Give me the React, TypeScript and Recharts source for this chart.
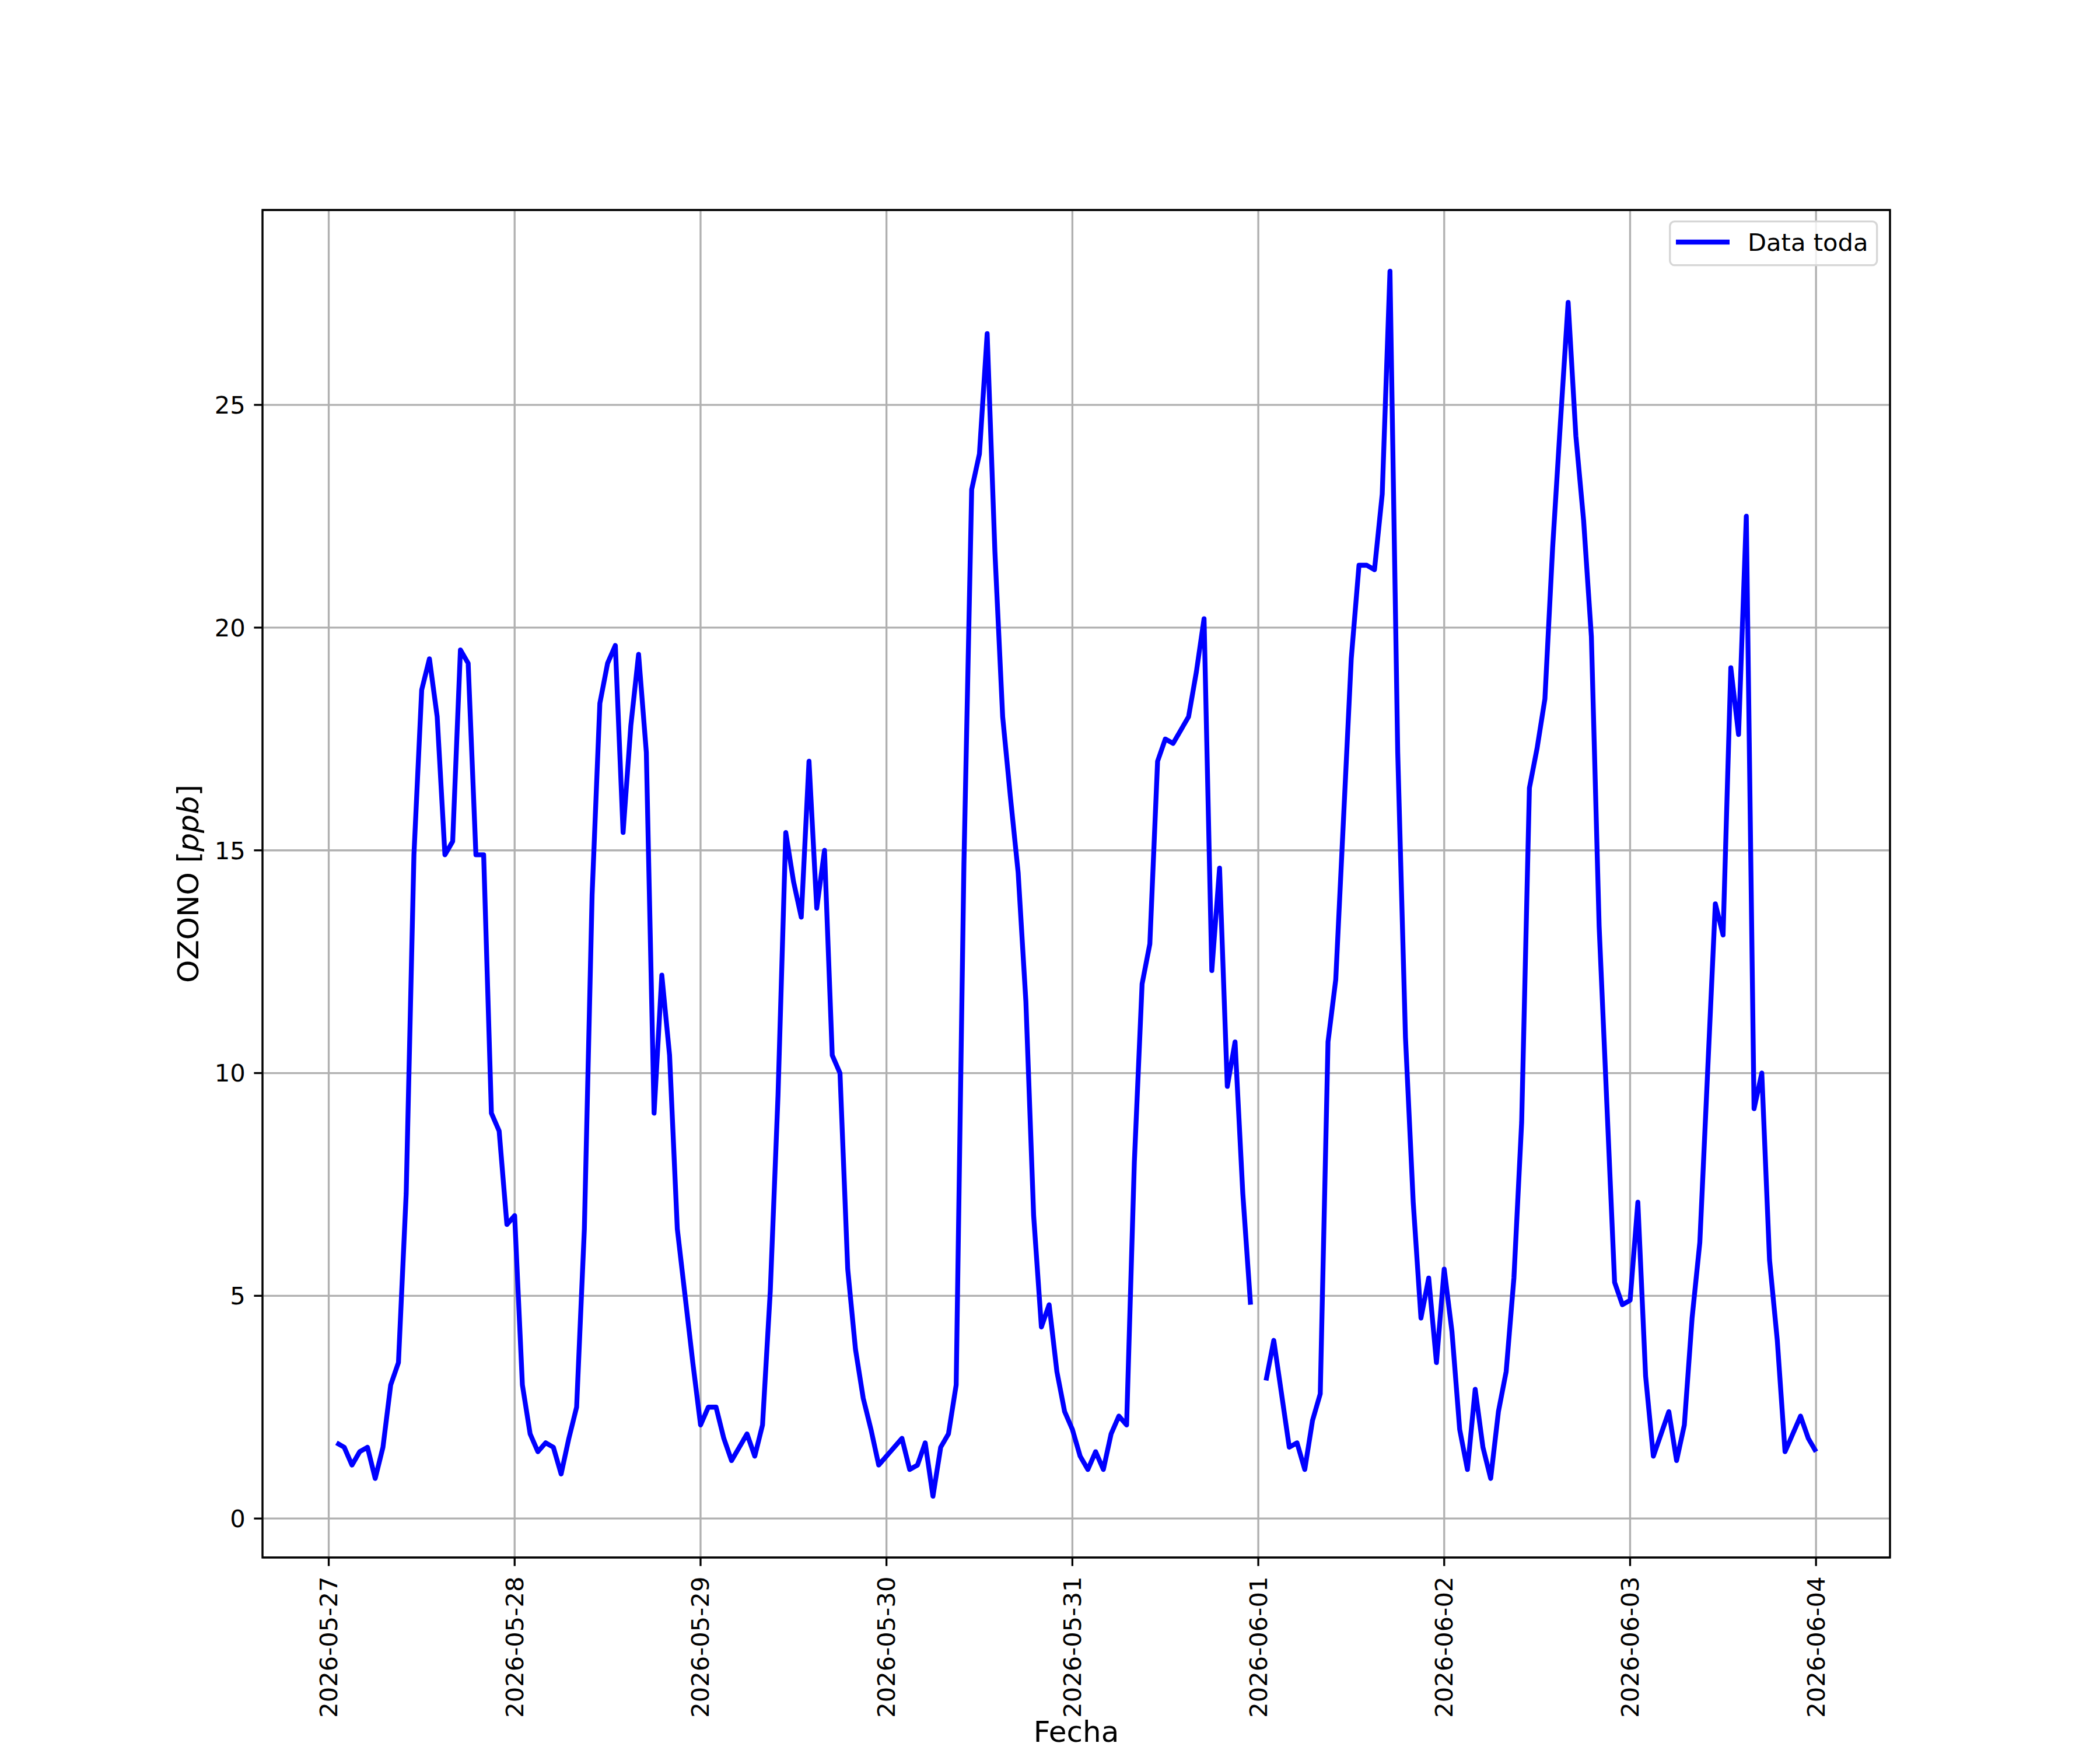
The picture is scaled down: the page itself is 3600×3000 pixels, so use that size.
import React from "react";
import {
  LineChart,
  Line,
  XAxis,
  YAxis,
  CartesianGrid,
  Legend,
  ReferenceArea,
  Label,
} from "recharts";

// hourly ozone readings, one array per day (01:00 .. 24:00)
const may27 = [1.7, 1.6, 1.2, 1.5, 1.6, 0.9, 1.6, 3.0, 3.5, 7.3, 14.9, 18.6, 19.3, 18.0, 14.9, 15.2, 19.5, 19.2, 14.9, 14.9, 9.1, 8.7, 6.6, 6.8];
const may28 = [3.0, 1.9, 1.5, 1.7, 1.6, 1.0, 1.8, 2.5, 6.5, 14.0, 18.3, 19.2, 19.6, 15.4, 17.8, 19.4, 17.2, 9.1, 12.2, 10.4, 6.5, 5.0, 3.5, 2.1];
const may29 = [2.5, 2.5, 1.8, 1.3, 1.6, 1.9, 1.4, 2.1, 5.1, 9.5, 15.4, 14.3, 13.5, 17.0, 13.7, 15.0, 10.4, 10.0, 5.6, 3.8, 2.7, 2.0, 1.2, 1.4];
const may30 = [1.6, 1.8, 1.1, 1.2, 1.7, 0.5, 1.6, 1.9, 3.0, 14.7, 23.1, 23.9, 26.6, 21.7, 18.0, 16.2, 14.5, 11.6, 6.8, 4.3, 4.8, 3.3, 2.4, 2.0];
const may31 = [1.4, 1.1, 1.5, 1.1, 1.9, 2.3, 2.1, 8.0, 12.0, 12.9, 17.0, 17.5, 17.4, 17.7, 18.0, 19.0, 20.2, 12.3, 14.6, 9.7, 10.7, 7.3, 4.8, null];
const jun01 = [3.1, 4.0, 2.8, 1.6, 1.7, 1.1, 2.2, 2.8, 10.7, 12.1, 15.7, 19.3, 21.4, 21.4, 21.3, 23.0, 28.0, 17.2, 10.8, 7.1, 4.5, 5.4, 3.5, 5.6];
const jun02 = [4.2, 2.0, 1.1, 2.9, 1.6, 0.9, 2.4, 3.3, 5.4, 8.9, 16.4, 17.3, 18.4, 21.8, 24.6, 27.3, 24.3, 22.4, 19.8, 13.3, 9.3, 5.3, 4.8, 4.9];
const jun03 = [7.1, 3.2, 1.4, 1.9, 2.4, 1.3, 2.1, 4.5, 6.2, 10.0, 13.8, 13.1, 19.1, 17.6, 22.5, 9.2, 10.0, 5.8, 4.0, 1.5, 1.9, 2.3, 1.8, 1.5];

const dayLabels = [
  "2026-05-27",
  "2026-05-28",
  "2026-05-29",
  "2026-05-30",
  "2026-05-31",
  "2026-06-01",
  "2026-06-02",
  "2026-06-03",
  "2026-06-04",
];
const dayTicks = [0, 24, 48, 72, 96, 120, 144, 168, 192];
const yTicks = [0, 5, 10, 15, 20, 25];

const ozone = [...may27, ...may28, ...may29, ...may30, ...may31, ...jun01, ...jun02, ...jun03];
// x = hours since 2026-05-27 00:00
const data = ozone.map((v, i) => ({ h: i + 1, v }));

const X_DOMAIN = [-8.55, 201.55];
const Y_DOMAIN = [-0.875, 29.375];

const FONT = "'DejaVu Sans', Verdana, sans-serif";
const FS = 41.67; // tick / legend text
const LFS = 50; // axis labels
const LW = 3.33;

const DateTick = (props: any) => {
  const { x, y, payload } = props;
  const idx = dayTicks.indexOf(payload.value);
  return (
    <text
      x={x}
      y={y}
      transform={`rotate(-90, ${x}, ${y})`}
      textAnchor="end"
      dominantBaseline="central"
      fontSize={FS}
      fontFamily={FONT}
      fill="#000"
    >
      {dayLabels[idx]}
    </text>
  );
};

const renderLegend = () => (
  <svg width={360} height={80} style={{ display: "block" }}>
    <rect
      x={1.7}
      y={1.7}
      width={355}
      height={75}
      rx={8}
      ry={8}
      fill="rgba(255,255,255,0.8)"
      stroke="#d6d6d6"
      strokeWidth={LW}
    />
    <line x1={12} y1={37} x2={104} y2={37} stroke="#0000ff" strokeWidth={8.33} />
    <text x={135} y={52} fontSize={FS} fontFamily={FONT} fill="#000">
      Data toda
    </text>
  </svg>
);

const App = () => {
  return (
    <div style={{ position: "absolute", left: 0, top: 0, width: 3600, height: 3000, background: "#fff" }}>
      <LineChart
        width={3600}
        height={3000}
        data={data}
        margin={{ top: 360, right: 360, bottom: 0, left: 0 }}
      >
        <CartesianGrid stroke="#b0b0b0" strokeWidth={LW} />
        <XAxis
          dataKey="h"
          type="number"
          domain={X_DOMAIN}
          allowDataOverflow
          ticks={dayTicks}
          interval={0}
          height={330}
          axisLine={false}
          tickSize={14.6}
          tickMargin={18}
          tickLine={{ stroke: "#000", strokeWidth: LW }}
          tick={<DateTick />}
        >
          <Label
            content={() => (
              <text
                x={1845}
                y={2986}
                textAnchor="middle"
                fontSize={LFS}
                fontFamily={FONT}
                fill="#000"
              >
                Fecha
              </text>
            )}
          />
        </XAxis>
        <YAxis
          type="number"
          domain={Y_DOMAIN}
          allowDataOverflow
          ticks={yTicks}
          interval={0}
          width={450}
          axisLine={false}
          tickSize={14.6}
          tickMargin={14.6}
          tickLine={{ stroke: "#000", strokeWidth: LW }}
          tick={{ fontSize: FS, fontFamily: FONT, fill: "#000" }}
        >
          <Label
            content={() => (
              <text
                x={340}
                y={1515}
                transform="rotate(-90, 340, 1515)"
                textAnchor="middle"
                fontSize={LFS}
                fontFamily={FONT}
                fill="#000"
              >
                OZONO [<tspan fontStyle="italic">ppb</tspan>]
              </text>
            )}
          />
        </YAxis>
        <Line
          type="linear"
          dataKey="v"
          name="Data toda"
          stroke="#0000ff"
          strokeWidth={8.33}
          strokeLinejoin="round"
          dot={false}
          activeDot={false}
          isAnimationActive={false}
        />
        <ReferenceArea
          x1={X_DOMAIN[0]}
          x2={X_DOMAIN[1]}
          y1={Y_DOMAIN[0]}
          y2={Y_DOMAIN[1]}
          fill="none"
          stroke="#000"
          strokeWidth={LW}
          ifOverflow="visible"
        />
        <Legend
          layout="horizontal"
          verticalAlign="middle"
          align="center"
          content={renderLegend}
          wrapperStyle={{ position: "absolute", left: 2861, top: 378, width: 360, height: 80 }}
        />
      </LineChart>
    </div>
  );
};

export default App;
